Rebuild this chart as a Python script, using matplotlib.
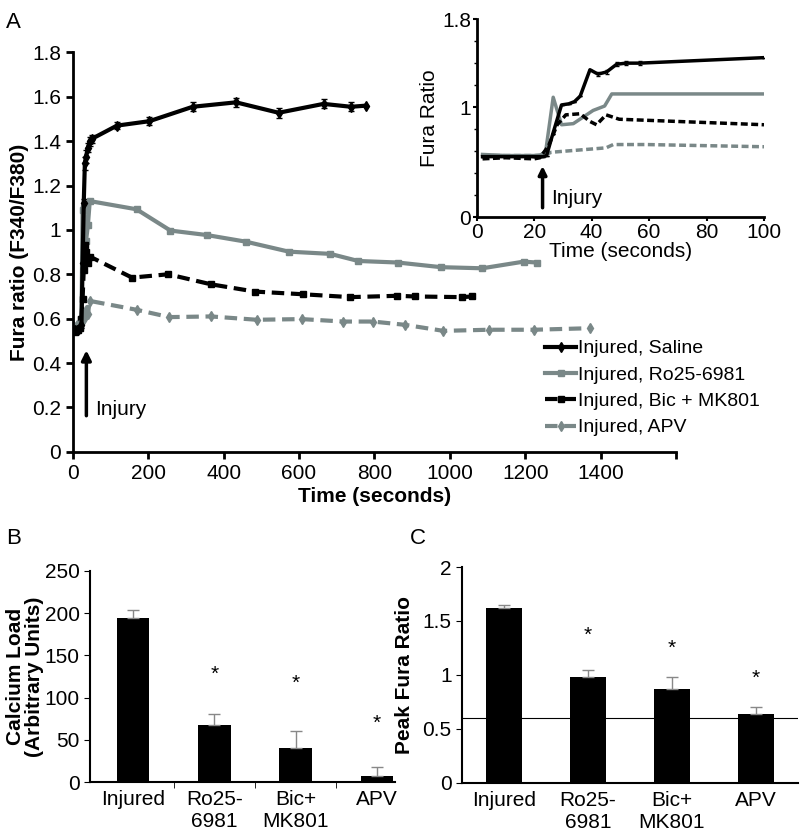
import numpy as np
import matplotlib.pyplot as plt

plt.rcParams['font.family'] = ['Liberation Sans', 'DejaVu Sans']

GRAY = '#7a8888'

# panel A, main trace (time in seconds, fura ratio)
sal_t = [0, 5, 10, 15, 20, 23, 26, 29, 32, 35, 40, 45, 50, 117, 203, 318, 433, 546, 665, 738, 777]
sal_v = [0.55, 0.55, 0.55, 0.55, 0.56, 0.57, 0.85, 1.12, 1.30, 1.33, 1.37, 1.40, 1.41, 1.47, 1.49, 1.555, 1.575, 1.528, 1.568, 1.555, 1.56]
sal_e = [0.01, 0.01, 0.01, 0.01, 0.01, 0.01, 0.02, 0.02, 0.03, 0.03, 0.02, 0.02, 0.02, 0.015, 0.018, 0.02, 0.02, 0.022, 0.02, 0.02, 0.0]

ro_t = [0, 5, 10, 15, 20, 23, 26, 30, 35, 40, 45, 169, 259, 355, 459, 573, 683, 757, 862, 977, 1086, 1196, 1230]
ro_v = [0.56, 0.56, 0.55, 0.56, 0.57, 0.6, 1.09, 1.1, 0.95, 1.02, 1.13, 1.093, 0.997, 0.977, 0.947, 0.902, 0.892, 0.86, 0.853, 0.832, 0.827, 0.857, 0.853]

bic_t = [0, 5, 10, 15, 20, 23, 26, 29, 32, 35, 40, 45, 157, 253, 366, 483, 610, 736, 860, 908, 1032, 1059]
bic_v = [0.55, 0.54, 0.55, 0.55, 0.56, 0.6, 0.69, 0.82, 0.93, 0.9, 0.85, 0.88, 0.785, 0.80, 0.755, 0.722, 0.71, 0.697, 0.703, 0.70, 0.697, 0.70]

apv_t = [0, 5, 10, 15, 20, 23, 26, 30, 35, 40, 45, 169, 256, 366, 488, 607, 718, 796, 882, 983, 1103, 1223, 1373]
apv_v = [0.57, 0.56, 0.57, 0.56, 0.57, 0.58, 0.62, 0.6, 0.64, 0.62, 0.68, 0.64, 0.607, 0.61, 0.595, 0.598, 0.587, 0.587, 0.572, 0.545, 0.55, 0.55, 0.557]

legend_labels = ['Injured, Saline', 'Injured, Ro25-6981', 'Injured, Bic + MK801', 'Injured, APV']

# inset, first 100 s
in_sal_t = [2, 10, 20, 23, 24.3, 26.5, 29.5, 32, 34, 36, 39.4, 42.2, 45.2, 48.7, 52, 56.7, 100]
in_sal_v = [0.55, 0.55, 0.55, 0.55, 0.56, 0.76, 1.02, 1.03, 1.05, 1.10, 1.34, 1.30, 1.32, 1.39, 1.40, 1.40, 1.45]
in_sal_e = [0, 0, 0, 0, 0, 0, 0, 0, 0, 0, 0, 0.02, 0.02, 0.02, 0.02, 0.02, 0]

in_ro_t = [2, 10, 20, 22, 24, 26.6, 29.5, 33.6, 40.5, 44.5, 47, 100]
in_ro_v = [0.57, 0.56, 0.56, 0.56, 0.6, 1.09, 0.84, 0.85, 0.97, 1.01, 1.12, 1.12]

in_bic_t = [2, 10, 20, 22, 25, 28, 31, 36, 39.4, 41.7, 45, 49.6, 100]
in_bic_v = [0.53, 0.54, 0.53, 0.54, 0.65, 0.84, 0.93, 0.94, 0.87, 0.84, 0.93, 0.89, 0.84]

in_apv_t = [2, 10, 20, 24, 26, 45, 47.5, 59, 100]
in_apv_v = [0.56, 0.56, 0.56, 0.57, 0.59, 0.63, 0.66, 0.66, 0.64]

# panels B and C
groups = ['Injured', 'Ro25-\n6981', 'Bic+\nMK801', 'APV']
load = [194, 67.5, 40, 6.7]
load_err = [9, 13, 20, 11]
load_star = [None, 127, 117, 69]

peak = [1.623, 0.984, 0.87, 0.64]
peak_err = [0.025, 0.06, 0.11, 0.06]
peak_star = [None, 1.37, 1.25, 0.97]
baseline = 0.605

FS = 15

fig = plt.figure(figsize=(8, 8.32), dpi=100)

# ---- A main
ax = fig.add_axes([0.091, 0.457, 0.754, 0.48])
h_sal = ax.errorbar(sal_t, sal_v, yerr=sal_e, color='black', lw=3, marker='d', ms=5,
                    ecolor='black', elinewidth=1, capsize=2.5)
h_ro, = ax.plot(ro_t, ro_v, color=GRAY, lw=3, marker='s', ms=5)
h_bic, = ax.plot(bic_t, bic_v, color='black', lw=3, ls=(0, (3, 1.6)), marker='s', ms=5)
h_apv, = ax.plot(apv_t, apv_v, color=GRAY, lw=3, ls=(0, (3, 1.6)), marker='d', ms=5)
ax.set_xlim(0, 1600)
ax.set_ylim(0, 1.8)
ax.set_xticks(np.arange(0, 1601, 200))
ax.set_xticklabels([str(v) for v in range(0, 1401, 200)] + [''])
ax.set_yticks(np.arange(0, 1.81, 0.2))
ax.set_yticklabels(['%g' % round(v, 1) for v in np.arange(0, 1.81, 0.2)])
for s in ['top', 'right']:
    ax.spines[s].set_visible(False)
for s in ['left', 'bottom']:
    ax.spines[s].set_linewidth(2)
ax.tick_params(labelsize=FS, width=2, length=5)
ax.set_xlabel('Time (seconds)', fontsize=FS, fontweight='bold', labelpad=3)
ax.set_ylabel('Fura ratio (F340/F380)', fontsize=FS, fontweight='bold', labelpad=2)
ax.annotate('', xy=(36, 0.47), xytext=(36, 0.15),
            arrowprops=dict(arrowstyle='-|>', color='black', lw=2.5, mutation_scale=14))
ax.text(58, 0.19, 'Injury', fontsize=FS, va='center')
leg = ax.legend([h_sal[0], h_ro, h_bic, h_apv], legend_labels,
                loc='upper left', bbox_to_anchor=(0.77, 0.30), frameon=False,
                fontsize=14, handlelength=1.6, handletextpad=0.1,
                labelspacing=0.45, borderaxespad=0)
for h in leg.legend_handles:
    h.set_linewidth(3)

# ---- A inset
ins = fig.add_axes([0.596, 0.739, 0.359, 0.238])
ins.errorbar(in_sal_t, in_sal_v, yerr=in_sal_e, color='black', lw=2.5,
             ecolor='black', elinewidth=0.8, capsize=1.5)
ins.plot(in_ro_t, in_ro_v, color=GRAY, lw=2.5)
ins.plot(in_bic_t, in_bic_v, color='black', lw=2.5, ls=(0, (2, 1)))
ins.plot(in_apv_t, in_apv_v, color=GRAY, lw=2.5, ls=(0, (2, 1)))
ins.set_xlim(0, 100)
ins.set_ylim(0, 1.8)
ins.set_xticks(np.arange(0, 101, 20))
ins.set_yticks([0, 1, 1.8])
ins.set_yticklabels(['0', '1', '1.8'])
ins.set_yticks(np.arange(0, 1.81, 0.2), minor=True)
for s in ['top', 'right']:
    ins.spines[s].set_visible(False)
for s in ['left', 'bottom']:
    ins.spines[s].set_linewidth(2)
ins.tick_params(labelsize=FS, width=1.5, length=3, pad=1)
ins.tick_params(which='minor', width=1, length=2)
ins.set_xlabel('Time (seconds)', fontsize=FS, labelpad=0)
ins.set_ylabel('Fura Ratio', fontsize=FS, labelpad=2)
ins.annotate('', xy=(22.9, 0.49), xytext=(22.9, 0.06),
             arrowprops=dict(arrowstyle='-|>', color='black', lw=2.5, mutation_scale=12))
ins.text(26, 0.17, 'Injury', fontsize=FS, va='center')

x = np.arange(len(groups))

# ---- B
axb = fig.add_axes([0.1125, 0.060, 0.381, 0.254])
axb.bar(x, load, width=0.4, color='black')
axb.errorbar(x, load, yerr=[np.zeros(len(load)), load_err], fmt='none',
             ecolor='#888888', elinewidth=1, capsize=4)
for xi, s in zip(x, load_star):
    if s is not None:
        axb.text(xi, s, '*', ha='center', va='center', fontsize=FS)
axb.set_xlim(-0.53, 3.22)
axb.set_ylim(0, 250)
axb.set_yticks(np.arange(0, 251, 50))
axb.set_xticks(x)
axb.set_xticklabels(groups)
axb.set_xticks([0.5, 1.5, 2.5], minor=True)
for s in ['top', 'right']:
    axb.spines[s].set_visible(False)
axb.spines['left'].set_linewidth(1.5)
axb.spines['bottom'].set_linewidth(1.5)
axb.tick_params(labelsize=FS, length=4)
axb.tick_params(axis='x', length=0, pad=6)
axb.tick_params(axis='x', which='minor', length=4)
axb.set_ylabel('Calcium Load\n(Arbitrary Units)', fontsize=FS, fontweight='bold',
               linespacing=1.05, labelpad=0)

# ---- C
axc = fig.add_axes([0.5775, 0.059, 0.42, 0.2595])
axc.bar(x, peak, width=0.42, color='black')
axc.errorbar(x, peak, yerr=[np.zeros(len(peak)), peak_err], fmt='none',
             ecolor='#888888', elinewidth=1, capsize=4)
axc.axhline(baseline, color='black', lw=0.8)
for xi, s in zip(x, peak_star):
    if s is not None:
        axc.text(xi, s, '*', ha='center', va='center', fontsize=FS)
axc.set_xlim(-0.5, 3.5)
axc.set_ylim(0, 2)
axc.set_yticks([0, 0.5, 1, 1.5, 2])
axc.set_yticklabels(['0', '0.5', '1', '1.5', '2'])
axc.set_xticks(x)
axc.set_xticklabels(groups)
for s in ['top', 'right']:
    axc.spines[s].set_visible(False)
axc.spines['left'].set_linewidth(1.5)
axc.spines['bottom'].set_linewidth(1.5)
axc.tick_params(labelsize=FS, length=4)
axc.tick_params(axis='x', length=0, pad=6)
axc.set_ylabel('Peak Fura Ratio', fontsize=FS, fontweight='bold', labelpad=6)

fig.text(0.008, 0.985, 'A', fontsize=16, va='top')
fig.text(0.008, 0.365, 'B', fontsize=16, va='top')
fig.text(0.512, 0.365, 'C', fontsize=16, va='top')

fig.savefig('out.png', dpi=100)
